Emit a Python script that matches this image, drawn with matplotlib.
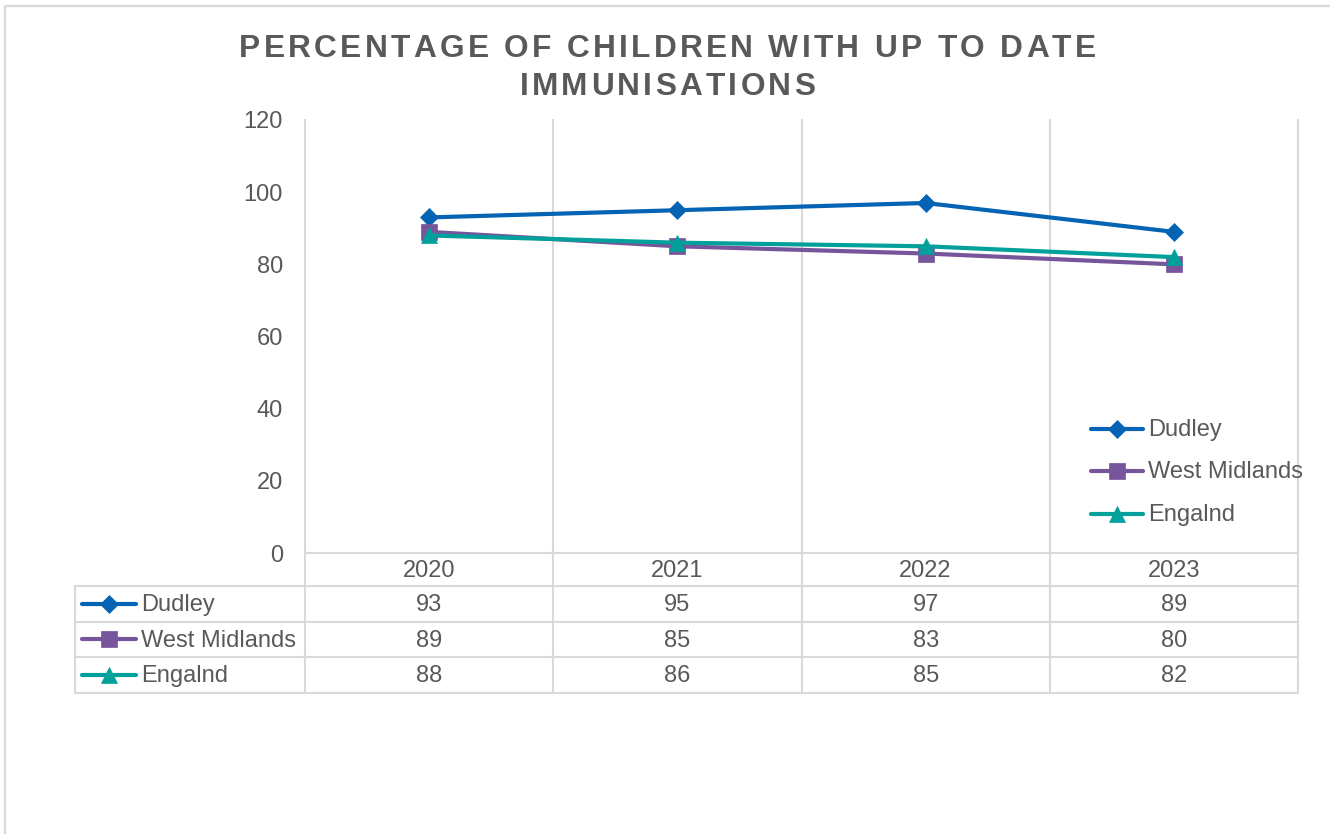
import matplotlib
matplotlib.use("Agg")
import matplotlib.pyplot as plt
from matplotlib.lines import Line2D
from matplotlib.transforms import Affine2D, blended_transform_factory
from matplotlib import font_manager
from matplotlib.font_manager import FontProperties
from matplotlib.ft2font import FT2Font

# ---------------- data ----------------
years = ["2020", "2021", "2022", "2023"]
series_names = ["Dudley", "West Midlands", "Engalnd"]
dudley = [93, 95, 97, 89]
west_midlands = [89, 85, 83, 80]
england = [88, 86, 85, 82]
yticks = [0, 20, 40, 60, 80, 100, 120]
title_lines = ["PERCENTAGE OF CHILDREN WITH UP TO DATE", "IMMUNISATIONS"]

# ---------------- style ----------------
colors = ["#0563B4", "#77559A", "#02A09B"]
markers = ["D", "s", "^"]
msizes = [8.8, 11.5, 12.0]
TXT = "#595959"
GRID = "#D9D9D9"
FONT = "Liberation Sans"
FS = 17

W, H = 1330, 834
fig = plt.figure(figsize=(W / 100, H / 100), dpi=100)
plt.rcParams['font.family'] = [FONT, 'DejaVu Sans']

# pixel (from top-left) transform
pxT = Affine2D().scale(1 / W, -1 / H).translate(0, 1) + fig.transFigure

L, R, T, B = 305, 1298, 120, 553
ax = fig.add_axes([L / W, 1 - B / H, (R - L) / W, (B - T) / H])
ax.patch.set_alpha(0)
ax.set_xlim(-0.5, len(years) - 0.5)
ax.set_ylim(yticks[0], yticks[-1])
for s in ax.spines.values():
    s.set_visible(False)
ax.set_xticks([])
ax.set_yticks(yticks)
ax.tick_params(axis='y', length=0, pad=16, labelsize=FS, labelcolor=TXT)
for lab in ax.get_yticklabels():
    lab.set_fontfamily(FONT)

xs = list(range(len(years)))
all_series = [dudley, west_midlands, england]
for vals, c, m, ms in zip(all_series, colors, markers, msizes):
    ax.plot(xs, vals, color=c, lw=3.0, marker=m, ms=ms, mec=c, mfc=c, mew=0.5,
            solid_capstyle='round', zorder=3)

# figure border (top and left)
fig.add_artist(Line2D([5, 5, W + 5], [H + 5, 6, 6], transform=pxT, color=GRID, lw=1.6))

# table geometry (pixels)
tab_left = 75
row_y = [553, 586, 622, 657, 693]
bx = blended_transform_factory(ax.transData, pxT)

# vertical category boundaries (gridlines continuing into table)
for i in range(len(years) + 1):
    xb = i - 0.5
    fig.add_artist(Line2D([xb, xb], [T, row_y[-1]], transform=bx, color=GRID, lw=1.5, zorder=0))
# horizontal lines
fig.add_artist(Line2D([L, R], [row_y[0], row_y[0]], transform=pxT, color=GRID, lw=1.5))
for yy in row_y[1:]:
    fig.add_artist(Line2D([tab_left, R], [yy, yy], transform=pxT, color=GRID, lw=1.5))
fig.add_artist(Line2D([tab_left, tab_left], [row_y[1], row_y[-1]], transform=pxT, color=GRID, lw=1.5))

# header years
for i, yr in enumerate(years):
    fig.text(i, (row_y[0] + row_y[1]) / 2 + 1.5, yr, transform=bx, ha='center', va='center',
             fontsize=FS, color=TXT, family=FONT)


def draw_key(x0, x1, y, c, m, ms):
    xm = (x0 + x1) / 2
    fig.add_artist(Line2D([x0, xm, x1], [y, y, y], transform=pxT, color=c, lw=3.0,
                          marker=m, ms=ms, mec=c, mfc=c, mew=0.5, markevery=[1],
                          solid_capstyle='round'))


# table rows
for r, (name, vals, c, m, ms) in enumerate(zip(series_names, all_series, colors, markers, msizes)):
    yc = (row_y[r + 1] + row_y[r + 2]) / 2
    draw_key(82, 136, yc, c, m, ms)
    fig.text(141, yc + 1.5, name, transform=pxT, ha='left', va='center', fontsize=FS, color=TXT, family=FONT)
    for i, v in enumerate(vals):
        fig.text(i, yc + 1.5, str(v), transform=bx, ha='center', va='center', fontsize=FS, color=TXT, family=FONT)

# legend inside plot
leg_y = [429, 471.5, 514]
for name, c, m, ms, yy in zip(series_names, colors, markers, msizes, leg_y):
    draw_key(1091, 1143, yy, c, m, ms)
    fig.text(1148, yy + 1, name, transform=pxT, ha='left', va='center', fontsize=FS, color=TXT, family=FONT)

# title with letter spacing
TFS = 22.8
tracking = 3.3
fp = FontProperties(family=FONT, weight='bold')
fpath = font_manager.findfont(fp)
ft = FT2Font(fpath)
ft.set_size(TFS, 100)
try:
    from matplotlib.ft2font import LoadFlags
    flags = LoadFlags.NO_HINTING
except Exception:
    from matplotlib.ft2font import LOAD_NO_HINTING as flags


def adv(ch):
    g = ft.load_char(ord(ch), flags=flags)
    return g.linearHoriAdvance / 65536


title_center = 667.5
title_base = [57, 95]
for line, yb in zip(title_lines, title_base):
    advs = [adv(ch) for ch in line]
    total = sum(advs) + tracking * (len(line) - 1)
    x = title_center - total / 2
    for ch, a in zip(line, advs):
        if ch != " ":
            fig.text(x, yb, ch, transform=pxT, ha='left', va='baseline', fontsize=TFS,
                     fontweight='bold', color=TXT, family=FONT)
        x += a + tracking

fig.savefig("out.png", dpi=100, facecolor="white")
